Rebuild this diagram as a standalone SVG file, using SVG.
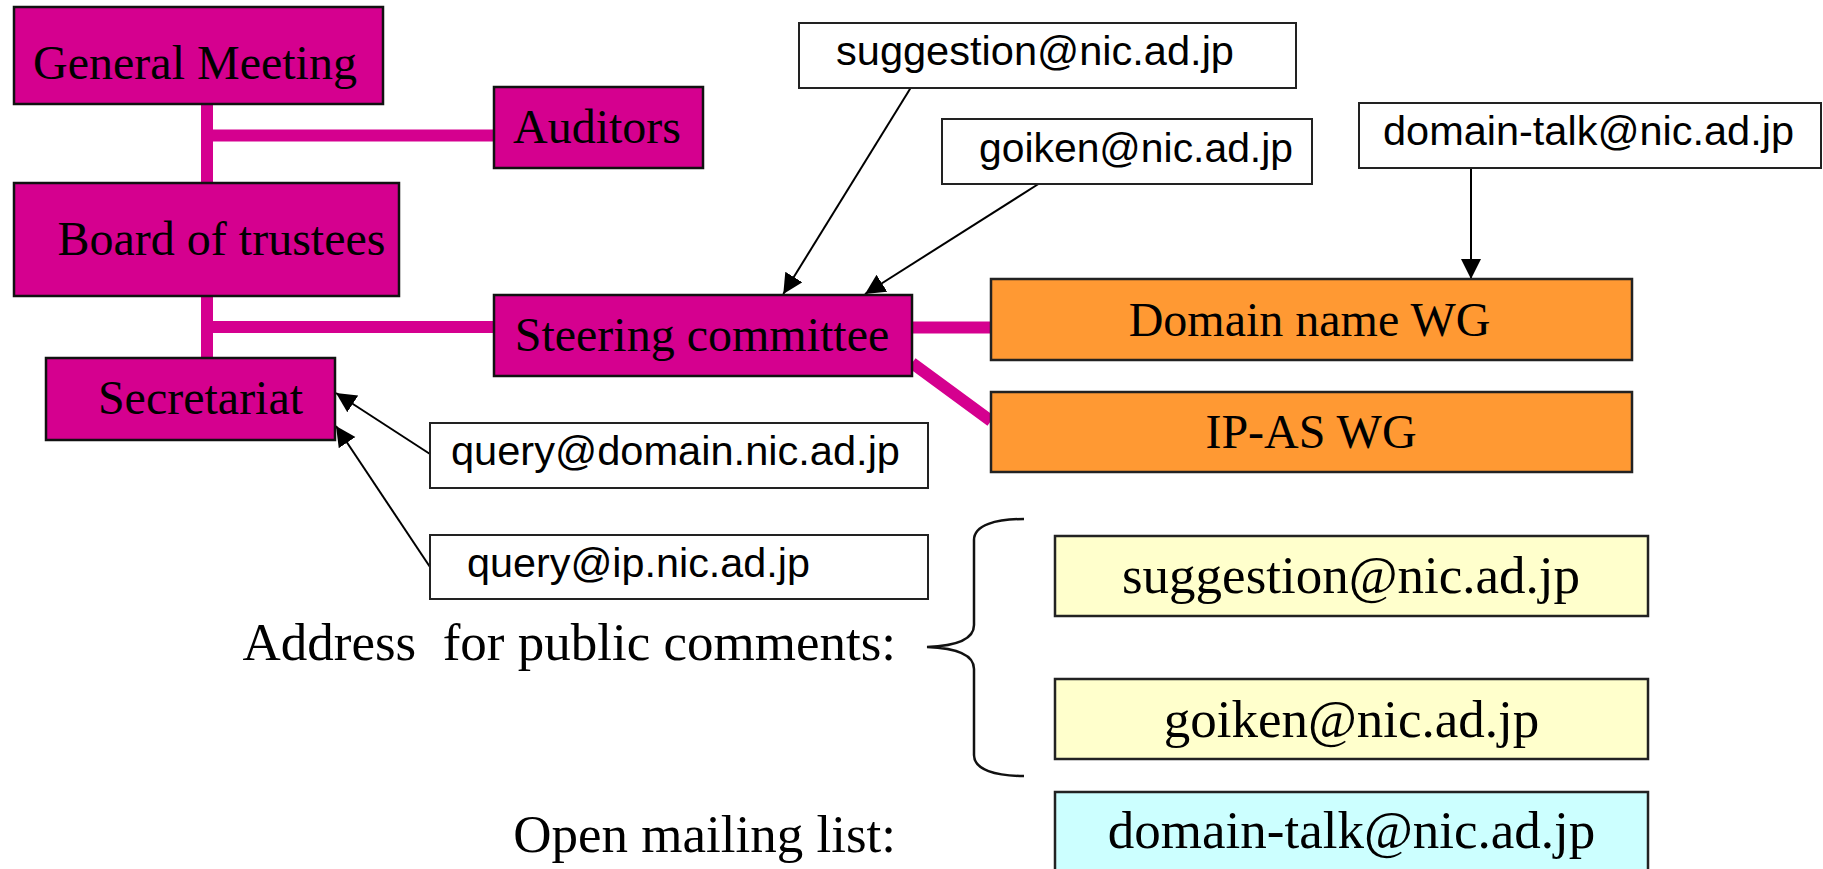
<svg xmlns="http://www.w3.org/2000/svg" width="1823" height="869" viewBox="0 0 1823 869">
<style>
.org{fill:#D5008F;stroke:#111;stroke-width:2.5}
.wg{fill:#FF9933;stroke:#222;stroke-width:2.5}
.yel{fill:#FFFFCC;stroke:#222;stroke-width:2.5}
.cya{fill:#CCFFFF;stroke:#222;stroke-width:2.5}
.mail{fill:#fff;stroke:#222;stroke-width:2}
.serif{font-family:"Liberation Serif","Times New Roman",serif;fill:#000}
.s48{font-size:48px;text-anchor:middle}
.s53{font-size:53px}
.sans{font-family:"Liberation Sans",Arial,sans-serif;font-size:41px;fill:#000}
.link{fill:none;stroke:#D5008F;stroke-width:12}
.arrow{fill:none;stroke:#000;stroke-width:2;marker-end:url(#ah)}
</style>
<defs>
<marker id="ah" markerUnits="userSpaceOnUse" markerWidth="22" markerHeight="22" refX="20" refY="10" orient="auto" viewBox="0 0 22 22">
<path d="M0,0 L20,10 L0,20 z" fill="#000"/>
</marker>
</defs>
<rect width="1823" height="869" fill="#fff"/>

<g id="connectors">
<path class="link" d="M207,104 V183 M207,135.5 H494 M207,296 V358 M207,327 H494 M912,327.5 H991 M912,363 L991,421"/>
<path class="arrow" d="M910.6,88 L783.3,294"/>
<path class="arrow" d="M1038.4,184 L865,294"/>
<path class="arrow" d="M1471,168 L1471,279"/>
<path class="arrow" d="M430,454 L336,393"/>
<path class="arrow" d="M430,567 L336,426"/>
<path fill="none" stroke="#111" stroke-width="2.5" d="M1024,519 C996,519 974,525 974,540 L974,625 C974,640 955,646 927,647 C955,648 974,654 974,669 L974,755 C974,770 996,776 1024,776"/>
</g>

<g id="general-meeting">
<rect class="org" x="14" y="7" width="369" height="97"/>
<text class="serif s48" x="195" y="79">General Meeting</text>
</g>
<g id="auditors">
<rect class="org" x="494" y="87" width="209" height="81"/>
<text class="serif s48" x="597" y="143">Auditors</text>
</g>
<g id="board">
<rect class="org" x="14" y="183" width="385" height="113"/>
<text class="serif s48" x="221.5" y="255">Board of trustees</text>
</g>
<g id="steering">
<rect class="org" x="494" y="295" width="418" height="81"/>
<text class="serif s48" x="702" y="351">Steering committee</text>
</g>
<g id="secretariat">
<rect class="org" x="46" y="358" width="289" height="82"/>
<text class="serif s48" x="200.5" y="414">Secretariat</text>
</g>
<g id="domain-wg">
<rect class="wg" x="991" y="279" width="641" height="81"/>
<text class="serif s48" x="1309.5" y="336">Domain name WG</text>
</g>
<g id="ipas-wg">
<rect class="wg" x="991" y="392" width="641" height="80"/>
<text class="serif s48" x="1311" y="448">IP-AS WG</text>
</g>

<g id="mail-suggestion">
<rect class="mail" x="799" y="23" width="497" height="65"/>
<text class="sans" x="836" y="65" textLength="398" lengthAdjust="spacingAndGlyphs">suggestion@nic.ad.jp</text>
</g>
<g id="mail-goiken">
<rect class="mail" x="942" y="119" width="370" height="65"/>
<text class="sans" x="979" y="162" textLength="314" lengthAdjust="spacingAndGlyphs">goiken@nic.ad.jp</text>
</g>
<g id="mail-domain-talk">
<rect class="mail" x="1359" y="103" width="462" height="65"/>
<text class="sans" x="1383" y="145" textLength="411" lengthAdjust="spacingAndGlyphs">domain-talk@nic.ad.jp</text>
</g>
<g id="mail-query-domain">
<rect class="mail" x="430" y="423" width="498" height="65"/>
<text class="sans" x="451" y="465" textLength="449" lengthAdjust="spacingAndGlyphs">query@domain.nic.ad.jp</text>
</g>
<g id="mail-query-ip">
<rect class="mail" x="430" y="535" width="498" height="64"/>
<text class="sans" x="467" y="577" textLength="343" lengthAdjust="spacingAndGlyphs">query@ip.nic.ad.jp</text>
</g>

<g id="label-public">
<text class="serif s53" x="896" y="660" text-anchor="end" xml:space="preserve" style="white-space:pre">Address  for public comments:</text>
</g>
<g id="label-open">
<text class="serif s53" x="896" y="852" text-anchor="end">Open mailing list:</text>
</g>
<g id="public-suggestion">
<rect class="yel" x="1055" y="536" width="593" height="80"/>
<text class="serif s53" x="1351" y="593" text-anchor="middle">suggestion@nic.ad.jp</text>
</g>
<g id="public-goiken">
<rect class="yel" x="1055" y="679" width="593" height="80"/>
<text class="serif s53" x="1351.5" y="737" text-anchor="middle">goiken@nic.ad.jp</text>
</g>
<g id="open-list">
<rect class="cya" x="1055" y="792" width="593" height="84"/>
<text class="serif s53" x="1351.5" y="848" text-anchor="middle">domain-talk@nic.ad.jp</text>
</g>
</svg>
